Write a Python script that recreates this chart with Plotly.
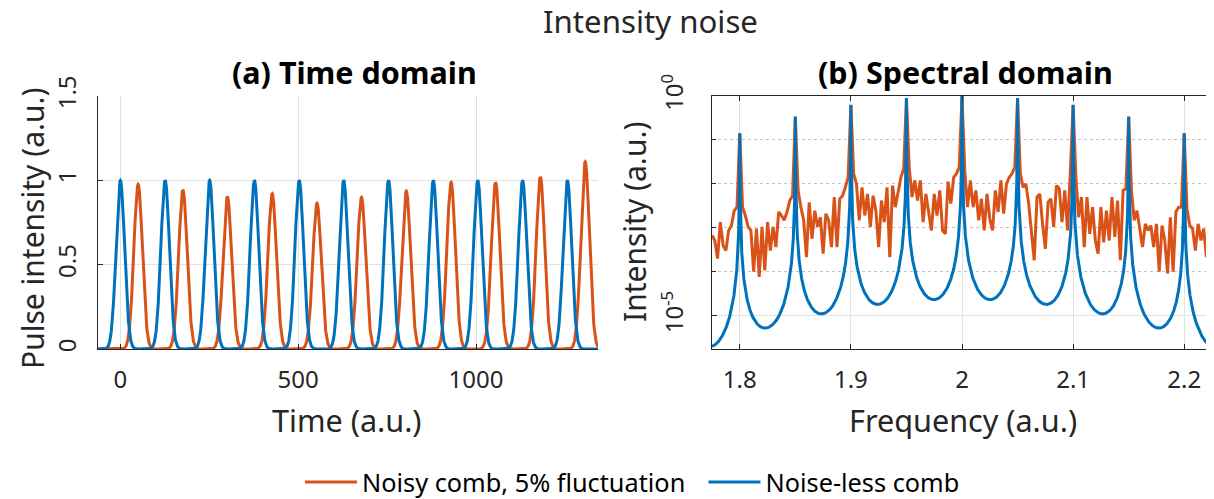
import numpy as np
import plotly.graph_objects as go

# ---------------- data ----------------
# (a) time domain: pulse centres and peak heights
noiseless_centers = [0, 126, 251, 377, 503, 628, 754, 880, 1005, 1131, 1257]
noiseless_heights = [1.0, 1.0, 1.0, 1.0, 1.0, 1.0, 1.0, 1.0, 1.0, 1.0, 1.0]
noisy_centers = [50, 176, 301, 427, 553, 678, 804, 930, 1055, 1181, 1307]
noisy_heights = [0.976, 0.943, 0.903, 0.921, 0.864, 0.899, 0.937, 0.988, 0.988, 1.02, 1.11]
pulse_sigma = 12.0
time_range = [-62.8, 1343]
time_ticks = [0, 500, 1000]
time_ticktext = ["0", "500", "1000"]
pulse_ticks = [0, 0.5, 1, 1.5]
pulse_ticktext = ["0", "0.5", "1", "1.5"]

# (b) spectral domain: comb lines (log10 of peak heights) and floor
comb_freqs = [1.80, 1.85, 1.90, 1.95, 2.00, 2.05, 2.10, 2.15, 2.20]
comb_log_peaks = [-0.85, -0.47, -0.20, -0.05, 0.0, -0.05, -0.20, -0.47, -0.85]
comb_log_floor = -4.63          # depth of the noise-less comb between lines
comb_spacing = 0.05

# noisy spectrum, log10 intensity, sampled every 0.0025 from 1.775 to 2.225
noisy_freq_start = 1.775
noisy_freq_step = 0.0025
noisy_log_spectrum = [
    -3.17, -3.29, -3.70, -2.87, -3.40, -3.52, -3.06, -2.95, -2.61, -2.53,
    -0.85, -2.53, -2.72, -2.98, -3.06, -4.00, -3.02, -4.12, -2.98, -3.97,
    -2.87, -3.52, -2.98, -3.44, -2.64, -2.72, -2.83, -2.64, -2.38, -2.27,
    -0.47, -2.15, -2.53, -2.83, -3.67, -2.42, -3.25,
    -2.61, -2.98, -2.76, -3.59, -2.68, -2.83, -3.44, -2.30, -3.44, -2.34,
    -2.27, -2.08, -1.85, -0.20, -1.77, -2.00, -2.83, -2.08, -2.72, -2.23,
    -2.98, -2.27, -2.61, -3.44, -2.38, -2.87, -2.08, -3.67, -2.04, -2.53,
    -2.15, -1.85, -1.66, -0.05, -1.62,
    -2.30, -1.92, -2.38, -1.92, -2.87, -2.23, -2.61, -3.06, -2.23, -2.72,
    -2.15, -3.06, -3.14, -1.95, -2.45, -1.85, -1.77, -1.62, 0.0, -1.70,
    -2.53, -1.92, -2.53, -2.15, -2.83, -2.34, -3.06, -2.23, -2.80, -3.06,
    -2.15, -2.64, -1.92, -2.68, -2.00, -1.85,
    -1.77, -1.62, -0.05, -1.77, -2.08, -2.00, -2.45, -3.02, -3.74, -2.30,
    -2.23, -2.91, -3.48, -2.42, -2.34, -2.98, -2.04, -2.11, -2.87, -2.15,
    -3.06, -1.73, -0.20, -1.85, -2.76, -2.30, -3.44, -2.30, -3.14, -2.53,
    -3.29, -3.59, -2.53, -3.33, -2.61, -3.29,
    -2.30, -3.21, -2.38, -3.74, -2.15, -2.11, -0.47, -2.15, -2.83, -2.61,
    -3.06, -3.44, -2.91, -3.06, -2.95, -3.44, -2.91, -4.00, -2.95, -3.29,
    -4.04, -2.76, -4.00, -2.64, -2.53, -2.53, -0.85, -2.57, -2.95, -3.02,
    -3.52, -2.91, -3.29, -3.02, -3.67, -3.06, -3.10,
]
freq_range = [1.775, 2.225]
freq_ticks = [1.8, 1.9, 2.0, 2.1, 2.2]
freq_ticktext = ["1.8", "1.9", "2", "2.1", "2.2"]
log_range = [-5.76, 0.0]

# ---------------- build curves ----------------
t = np.linspace(time_range[0], time_range[1], 4000)
def pulse_train(centers, heights):
    y = np.zeros_like(t)
    for c, h in zip(centers, heights):
        y += h * np.exp(-((t - c) ** 2) / (2 * pulse_sigma ** 2))
    return y

noisy_time = pulse_train(noisy_centers, noisy_heights)
clean_time = pulse_train(noiseless_centers, noiseless_heights)

f = np.linspace(freq_range[0], freq_range[1], 9001)
env_coef = np.polyfit(comb_freqs, comb_log_peaks, 2)
log_env = np.polyval(env_coef, f)
finesse = 10 ** (-comb_log_floor) - 1
airy = 1.0 / (1.0 + finesse * np.sin(np.pi * (f - comb_freqs[0]) / comb_spacing) ** 2)
clean_spec = 10 ** log_env * airy

noisy_f = noisy_freq_start + noisy_freq_step * np.arange(len(noisy_log_spectrum))
noisy_spec = 10 ** np.array(noisy_log_spectrum)

ORANGE = "#D95319"
BLUE = "#0072BD"
TXT = "#262626"
GRID = "#e3e3e3"
FONT = "Noto Sans"
LW = 3

fig = go.Figure()
fig.add_trace(go.Scatter(x=t, y=noisy_time, mode="lines", line=dict(color=ORANGE, width=LW),
                         name="Noisy comb, 5% fluctuation\u00a0\u00a0",
                         xaxis="x", yaxis="y", showlegend=True))
fig.add_trace(go.Scatter(x=t, y=clean_time, mode="lines", line=dict(color=BLUE, width=LW),
                         name="Noise-less comb", xaxis="x", yaxis="y", showlegend=True))
fig.add_trace(go.Scatter(x=noisy_f, y=noisy_spec, mode="lines", line=dict(color=ORANGE, width=LW),
                         name="Noisy comb, 5% fluctuation", xaxis="x2", yaxis="y2", showlegend=False))
fig.add_trace(go.Scatter(x=f, y=clean_spec, mode="lines", line=dict(color=BLUE, width=LW),
                         name="Noise-less comb", xaxis="x2", yaxis="y2", showlegend=False))

# page body has an 8 px margin: figure is placed at (8, 8) in the window
OFF = 8
W, H = 1214 - OFF, 499 - OFF
def px(x): return (x - OFF) / W
def py(y): return 1 - (y - OFF) / H

tickfont = dict(family=FONT, size=24, color=TXT)
common = dict(showline=True, linecolor=TXT, linewidth=1, ticks="inside", ticklen=5,
              tickcolor=TXT, showgrid=True, gridcolor=GRID, gridwidth=1, zeroline=False,
              tickfont=tickfont, automargin=False)

fig.update_layout(
    width=W, height=H, margin=dict(l=0, r=0, t=0, b=0, autoexpand=False),
    paper_bgcolor="white", plot_bgcolor="white",
    font=dict(family=FONT, color=TXT),
    xaxis=dict(domain=[px(98), px(598)], range=time_range, tickvals=time_ticks,
               ticktext=time_ticktext, anchor="y", ticklabelstandoff=9, **common),
    yaxis=dict(domain=[py(349), py(96)], range=[0, 1.5], tickvals=pulse_ticks,
               ticktext=pulse_ticktext, tickangle=-90, anchor="x", ticklabelstandoff=11,
               **common),
    xaxis2=dict(domain=[px(712), px(1212)], range=freq_range, tickvals=freq_ticks,
                ticktext=freq_ticktext, anchor="y2", mirror="ticks", ticklabelstandoff=9,
                **common),
    yaxis2=dict(domain=[py(349), py(96)], type="log", range=log_range,
                tickvals=[1e-5, 1], ticktext=["10<sup>-5</sup>", "10<sup>0</sup>"],
                tickangle=-90, anchor="x2", mirror="ticks", ticklabelstandoff=18,
                minor=dict(tickvals=[1e-4, 1e-3, 1e-2, 1e-1], ticks="inside", ticklen=4,
                           tickcolor=TXT, showgrid=True, gridcolor="#c4c4c4", griddash="dot"),
                **common),
    legend=dict(orientation="h", x=px(300), xanchor="left", y=py(482), yanchor="middle",
                itemwidth=52,
                font=dict(family=FONT, size=25.3, color="#000000"), bgcolor="rgba(0,0,0,0)"),
)

annos = [
    ("Intensity noise", 650, 21, 0, 31.2, TXT, False),
    ("(a) Time domain", 354, 72, 0, 30.5, "#000000", True),
    ("(b) Spectral domain", 965, 72, 0, 30.5, "#000000", True),
    ("Time (a.u.)", 347, 420, 0, 30.6, TXT, False),
    ("Frequency (a.u.)", 963, 420, 0, 30.6, TXT, False),
    ("Pulse intensity (a.u.)", 32, 228, -90, 30, TXT, False),
    ("Intensity (a.u.)", 634, 222, -90, 30, TXT, False),
]
for text, x, y, ang, size, col, bold in annos:
    fig.add_annotation(text=f"<b>{text}</b>" if bold else text, x=px(x), y=py(y),
                       xref="paper", yref="paper", xanchor="center", yanchor="middle",
                       showarrow=False, textangle=ang,
                       font=dict(family=FONT, size=size, color=col))

fig.write_html("out.html")
